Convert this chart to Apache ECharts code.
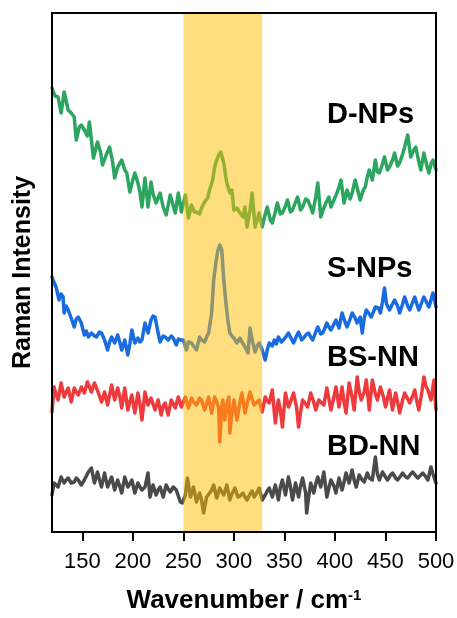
<!DOCTYPE html>
<html>
<head>
<meta charset="utf-8">
<script src="https://cdn.jsdelivr.net/npm/echarts@6/dist/echarts.min.js"></script>
<style>
html,body{margin:0;padding:0;background:#fff;}
#c{width:457px;height:618px;}
</style>
</head>
<body>
<div id="c"></div>
<script>
// Tick labels on wavenumber axis
const xTicks = [150, 200, 250, 300, 350, 400, 450, 500];
// Highlighted region (cm^-1)
const bandRange = [250, 328];
// Labels
const seriesNames = ['D-NPs', 'S-NPs', 'BS-NN', 'BD-NN'];
// Spectra: [wavenumber, intensity (offset, arb. units)]
const dNPs = [[120,444],[123,436],[126,435],[129,419],[132,440],[136,422],[139,419],[142,415],[144,392],[147,405],[149,407],[152,402],[155,396],[157,410],[161,374],[165,390],[168,380],[170,367],[174,378],[177,385],[180,370],[182,354],[185,365],[189,372],[192,362],[194,359],[197,340],[200,352],[202,359],[205,349],[207,340],[209,325],[212,354],[215,325],[218,350],[220,338],[223,329],[227,339],[230,325],[233,317],[237,337],[240,326],[242,319],[245,339],[248,320],[252,337],[255,314],[258,327],[261,320],[263,320],[266,318],[268,324],[271,330],[274,334],[276,342],[279,352],[281,365],[283,372],[285,377],[287,380],[288,380],[290,369],[292,355],[293,349],[296,339],[298,342],[300,322],[303,324],[306,319],[309,315],[311,325],[313,305],[316,322],[318,339],[321,305],[323,312],[325,319],[328,305],[331,318],[333,325],[336,312],[338,309],[341,320],[343,329],[346,318],[348,319],[351,326],[353,332],[356,320],[358,322],[361,330],[363,335],[366,322],[368,325],[371,333],[373,332],[376,325],[378,319],[381,335],[383,349],[386,315],[389,324],[391,329],[394,335],[396,325],[399,332],[402,339],[404,345],[406,352],[409,329],[412,342],[415,333],[417,339],[420,352],[423,340],[425,332],[428,342],[430,345],[432,355],[434,362],[437,352],[440,372],[442,360],[444,359],[447,368],[449,375],[452,362],[454,365],[457,372],[459,379],[462,366],[464,369],[467,378],[469,385],[472,397],[475,375],[478,382],[480,385],[483,370],[485,362],[488,379],[491,366],[493,359],[495,368],[497,372],[500,362]];
const sNPs = [[120,255],[121,252],[124,245],[127,232],[129,238],[131,235],[132,219],[134,226],[136,222],[139,214],[142,205],[144,213],[146,215],[149,209],[152,197],[154,201],[156,195],[159,199],[162,196],[164,195],[167,200],[169,199],[172,192],[175,182],[177,190],[179,195],[182,189],[185,197],[187,190],[189,182],[192,192],[195,177],[197,188],[199,202],[202,189],[205,194],[207,190],[209,192],[212,209],[215,199],[218,212],[220,216],[222,215],[225,199],[227,190],[230,196],[232,195],[235,192],[238,196],[240,194],[243,187],[245,193],[247,192],[250,192],[253,182],[255,190],[258,189],[260,186],[263,182],[266,195],[268,192],[271,190],[273,195],[275,199],[278,219],[280,252],[282,268],[284,281],[286,287],[288,282],[290,252],[292,230],[294,212],[296,199],[298,196],[300,194],[303,189],[306,194],[308,190],[311,185],[314,179],[316,204],[318,192],[321,180],[323,186],[325,189],[328,182],[331,172],[333,182],[335,189],[338,186],[340,192],[342,188],[344,195],[347,190],[349,192],[352,196],[354,199],[357,193],[359,189],[362,196],[364,200],[367,192],[369,194],[372,198],[374,199],[376,195],[378,192],[381,200],[383,205],[386,198],[388,199],[390,204],[392,209],[394,205],[396,202],[399,208],[401,212],[404,204],[407,219],[410,210],[412,205],[415,213],[417,219],[420,214],[422,209],[425,215],[427,199],[429,214],[431,222],[434,218],[436,215],[438,220],[440,225],[443,224],[445,219],[447,230],[449,244],[451,228],[454,222],[457,228],[459,232],[462,226],[464,219],[467,228],[469,235],[472,226],[474,222],[477,230],[479,235],[481,228],[483,222],[486,230],[488,235],[491,229],[493,225],[495,232],[497,239],[500,225]];
const bsNN = [[120,120],[122,145],[124,138],[126,132],[129,149],[132,135],[134,140],[136,144],[139,130],[142,144],[144,140],[146,137],[149,145],[152,139],[155,150],[157,145],[159,140],[162,149],[166,139],[169,130],[172,140],[175,127],[179,147],[182,132],[185,144],[187,136],[189,124],[192,144],[195,122],[197,130],[199,137],[202,119],[205,139],[207,128],[209,112],[212,140],[215,127],[218,134],[220,128],[222,122],[225,132],[228,117],[230,126],[232,129],[235,117],[238,132],[240,128],[242,124],[245,135],[248,125],[250,130],[252,135],[255,124],[258,134],[260,130],[263,127],[266,134],[268,132],[271,122],[273,128],[275,135],[278,119],[281,135],[283,130],[285,124],[286,90],[288,125],[289,132],[291,112],[293,128],[295,135],[296,99],[298,118],[300,132],[303,112],[306,130],[308,139],[311,119],[313,128],[316,140],[318,133],[320,127],[323,130],[325,132],[328,120],[331,135],[333,131],[335,129],[338,142],[341,109],[344,132],[346,122],[348,105],[351,139],[354,125],[356,130],[359,139],[362,125],[364,105],[366,120],[368,132],[371,128],[373,125],[376,139],[379,130],[381,122],[384,132],[386,130],[389,127],[392,144],[394,133],[396,122],[399,135],[401,145],[404,125],[407,145],[409,130],[411,119],[414,149],[417,135],[419,122],[422,155],[424,140],[426,132],[429,140],[431,152],[434,122],[437,152],[440,138],[442,132],[445,145],[448,135],[450,125],[454,142],[457,122],[460,139],[462,130],[464,119],[467,132],[469,139],[472,133],[474,129],[477,136],[479,142],[481,131],[483,122],[486,140],[488,155],[490,146],[492,142],[495,132],[498,152],[500,122]];
const bdNN = [[120,37],[122,49],[124,47],[126,45],[129,55],[132,49],[134,52],[136,54],[139,49],[142,50],[144,54],[146,52],[149,47],[152,52],[154,56],[156,60],[159,64],[162,49],[165,60],[167,52],[169,45],[172,59],[175,45],[177,50],[179,55],[182,42],[185,52],[187,46],[189,39],[192,55],[195,45],[197,48],[199,52],[202,39],[205,49],[207,45],[209,42],[212,45],[215,59],[217,35],[220,47],[223,37],[225,42],[227,45],[230,35],[233,47],[235,43],[237,40],[240,45],[243,42],[245,36],[247,30],[249,29],[252,37],[254,54],[257,35],[260,45],[263,30],[266,39],[268,32],[270,19],[273,35],[276,39],[278,42],[280,47],[283,34],[286,44],[288,40],[290,37],[293,47],[296,32],[298,38],[301,44],[304,35],[306,36],[309,39],[311,35],[313,32],[316,38],[318,41],[320,35],[323,40],[325,44],[328,32],[331,37],[333,41],[335,44],[338,35],[341,47],[344,32],[346,45],[348,52],[351,37],[354,55],[356,45],[358,32],[361,49],[364,35],[366,46],[368,54],[371,39],[372,19],[374,35],[376,49],[379,39],[381,48],[383,55],[386,45],[389,60],[392,35],[394,44],[396,52],[399,46],[401,39],[404,54],[407,42],[409,50],[411,59],[414,49],[417,62],[419,52],[421,45],[424,57],[427,52],[429,50],[432,59],[434,54],[437,52],[440,75],[442,58],[444,52],[447,60],[450,55],[452,52],[455,57],[457,59],[460,54],[462,52],[465,56],[467,59],[470,55],[472,54],[475,58],[477,60],[480,56],[482,54],[485,57],[487,59],[490,55],[492,52],[495,65],[497,58],[500,49]];

const colors = ['#2BA55F', '#1A6BE0', '#EE3A3C', '#4A4A4A'];
const FONT = '"Liberation Sans", Arial, Helvetica, sans-serif';

const chart = echarts.init(document.getElementById('c'), null, {renderer: 'canvas'});

function lineSeries(name, data, color) {
  return {
    name: name, type: 'line', data: data, showSymbol: false, symbol: 'none',
    lineStyle: {color: color, width: 3.5, join: 'round', cap: 'round'}, z: 2, animation: false
  };
}

const frameLine = {show: true, onZero: false, lineStyle: {color: '#000', width: 2}};

const option = {
  animation: false,
  backgroundColor: '#fff',
  grid: {left: 52, right: 21, top: 13, bottom: 86, containLabel: false, outerBoundsMode: 'none'},
  xAxis: [{
    type: 'value', min: 120, max: 500, position: 'bottom', z: 20,
    axisLine: frameLine,
    axisTick: {show: true, customValues: xTicks, length: 9, inside: false, lineStyle: {color: '#000', width: 2}},
    axisLabel: {customValues: xTicks, fontSize: 22, color: '#000', fontFamily: FONT, margin: 19},
    splitLine: {show: false},
    name: '{t|Wavenumber / cm}{s|-1}', nameLocation: 'middle', nameGap: 56,
    nameTextStyle: {
      rich: {
        t: {fontSize: 26, fontWeight: 'bold', color: '#000', fontFamily: FONT},
        s: {fontSize: 15, fontWeight: 'bold', color: '#000', fontFamily: FONT, verticalAlign: 'top'}
      }
    }
  }, {
    type: 'value', min: 120, max: 500, position: 'top', z: 20,
    axisLine: frameLine, axisTick: {show: false}, axisLabel: {show: false}, splitLine: {show: false}
  }],
  yAxis: [{
    type: 'value', min: 0, max: 519, position: 'left', z: 20,
    axisLine: frameLine, axisTick: {show: false}, axisLabel: {show: false}, splitLine: {show: false},
    name: 'Raman Intensity', nameLocation: 'middle', nameRotate: 90, nameGap: 16,
    nameTextStyle: {fontSize: 25, fontWeight: 'bold', color: '#000', fontFamily: FONT}
  }, {
    type: 'value', min: 0, max: 519, position: 'right', z: 20,
    axisLine: frameLine, axisTick: {show: false}, axisLabel: {show: false}, splitLine: {show: false}
  }],
  series: [
    lineSeries(seriesNames[0], dNPs, colors[0]),
    lineSeries(seriesNames[1], sNPs, colors[1]),
    lineSeries(seriesNames[2], bsNN, colors[2]),
    lineSeries(seriesNames[3], bdNN, colors[3]),
    {
      type: 'line', data: [], z: 10, silent: true,
      markArea: {
        silent: true, z: 10,
        itemStyle: {color: 'rgba(255,190,0,0.5)'},
        data: [[{xAxis: bandRange[0]}, {xAxis: bandRange[1]}]]
      }
    }
  ],
  graphic: [
    {type: 'text', x: 327, y: 115, z: 30, style: {text: seriesNames[0], font: 'bold 29px ' + FONT, fill: '#000', verticalAlign: 'middle'}},
    {type: 'text', x: 327, y: 269, z: 30, style: {text: seriesNames[1], font: 'bold 29px ' + FONT, fill: '#000', verticalAlign: 'middle'}},
    {type: 'text', x: 327, y: 358, z: 30, style: {text: seriesNames[2], font: 'bold 29px ' + FONT, fill: '#000', verticalAlign: 'middle'}},
    {type: 'text', x: 327, y: 447, z: 30, style: {text: seriesNames[3], font: 'bold 29px ' + FONT, fill: '#000', verticalAlign: 'middle'}}
  ]
};
chart.setOption(option);
</script>
</body>
</html>
